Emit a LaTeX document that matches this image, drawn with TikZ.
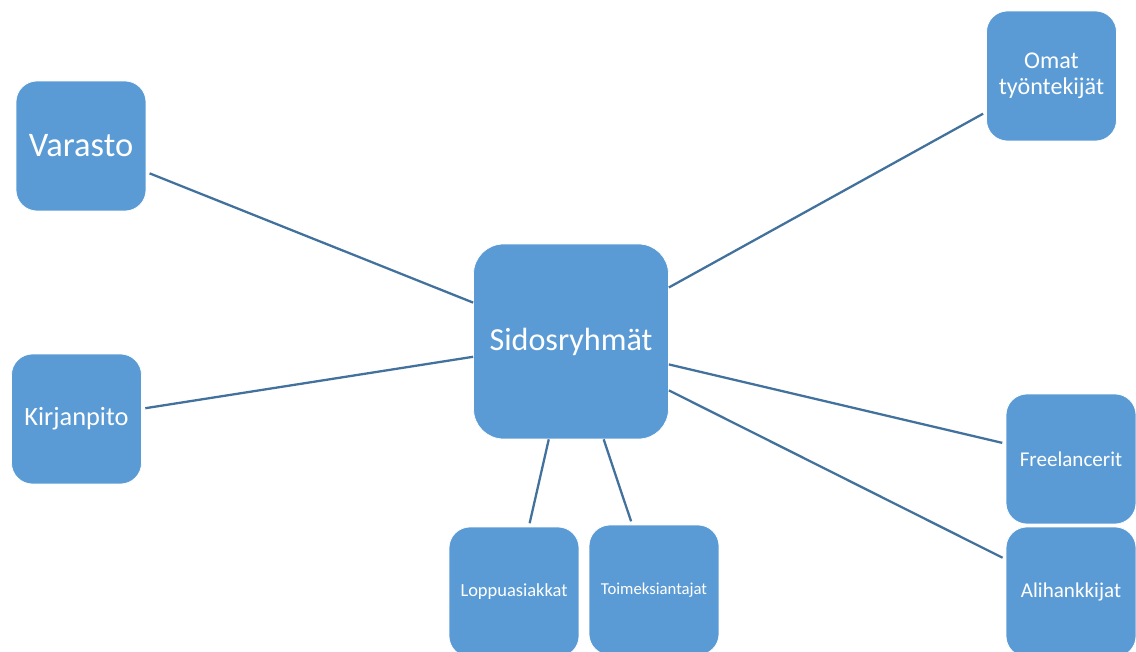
\documentclass[tikz,border=0pt]{standalone}
\usepackage{fontspec}
\setmainfont{Carlito}
\usetikzlibrary{positioning}
\definecolor{boxblue}{HTML}{5B9BD5}
\definecolor{lineblue}{HTML}{41719C}
\tikzset{
	ryhma/.style={draw=white,line width=0.4pt,fill=boxblue,text=white,rounded corners=0.42cm,
		minimum width=2.6cm,minimum height=2.6cm,align=center,inner sep=2pt},
	yhteys/.style={draw=lineblue,line width=1.3pt}
}

\begin{document}
\begin{tikzpicture}[x=0.02cm,y=-0.02cm]
	\useasboundingbox (0,0) rectangle (1136,652);
	\clip (0,0) rectangle (1136,652);
	% keskusryhma
	\node[ryhma,minimum width=3.9cm,minimum height=3.9cm,rounded corners=0.6cm,font=\fontsize{18.3}{21}\selectfont] (S) at (571,341.5) {Sidosryhmät};
	% vasen puoli
	\node[ryhma,font=\fontsize{19.6}{22}\selectfont] (V) at (81,146) {Varasto};
	\node[ryhma,font=\fontsize{15}{17}\selectfont] (K) at (76.5,419) {Kirjanpito};
	% oikea puoli
	\node[ryhma,font=\fontsize{13.7}{15}\selectfont] (O) at (1051.5,76) {Omat\\työntekijät};
	\node[ryhma,font=\fontsize{12}{14}\selectfont] (F) at (1071,459) {Freelancerit};
	\node[ryhma,font=\fontsize{12}{14}\selectfont] (A) at (1071,592) {Alihankkijat};
	% alhaalla
	\node[ryhma,font=\fontsize{10.5}{12}\selectfont] (L) at (514,592) {Loppuasiakkat};
	\node[ryhma,font=\fontsize{9.5}{11}\selectfont] (T) at (654,590) {Toimeksiantajat};
	
	\draw[yhteys,shorten <=2pt] (V) -- (S);
	\draw[yhteys,shorten <=2pt] (K) -- (S);
	\draw[yhteys,shorten >=2pt] (S) -- (O);
	\draw[yhteys,shorten >=2pt] (S) -- (F);
	\draw[yhteys,shorten >=2pt] (S) -- (A);
	\draw[yhteys,shorten >=2pt] (S) -- (L);
	\draw[yhteys,shorten >=2pt] (S) -- (T);
\end{tikzpicture}
\end{document}
